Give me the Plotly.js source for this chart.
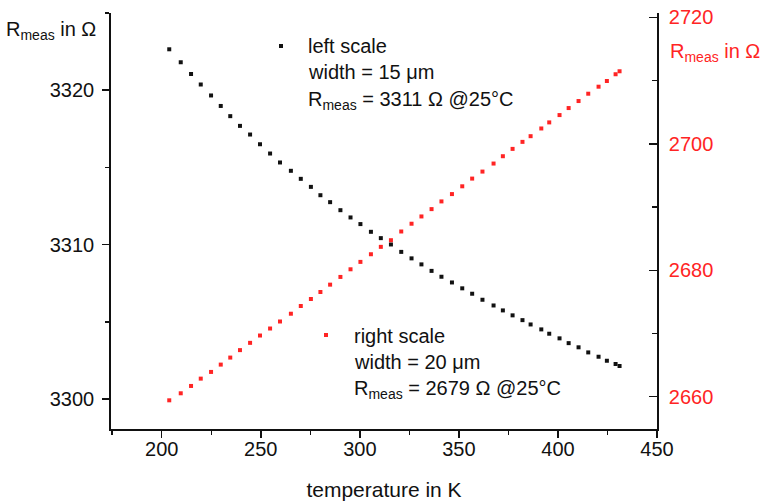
<!DOCTYPE html>
<html>
<head>
<meta charset="utf-8">
<script src="https://cdn.plot.ly/plotly-3.0.1.min.js"></script>
<style>html,body{margin:0;padding:0;background:#fff;}#chart{width:764px;height:501px;}</style>
</head>
<body>
<div id="chart"></div>
<script>
// temperature in K (shared by both series)
const temperature = [203.8,209.6,214.8,219.7,224.9,229.8,234.6,239.5,244.6,249.6,254.7,259.7,265.2,270.2,275.3,280.1,285.0,290.2,295.3,300.3,305.6,310.6,315.7,320.9,326.1,331.1,336.2,341.2,346.5,351.7,356.7,361.9,367.5,372.2,377.1,382.1,386.2,391.6,395.6,400.8,405.4,410.4,415.3,420.5,424.7,429.1,431.1];
// left scale: width = 15 um
const rLeft = [3322.65,3321.81,3321.05,3320.37,3319.66,3318.98,3318.32,3317.69,3317.13,3316.50,3315.90,3315.32,3314.78,3314.26,3313.74,3313.20,3312.75,3312.23,3311.76,3311.33,3310.83,3310.42,3310.01,3309.53,3309.11,3308.72,3308.30,3307.92,3307.55,3307.17,3306.82,3306.43,3306.06,3305.74,3305.42,3305.11,3304.83,3304.51,3304.23,3303.93,3303.62,3303.35,3303.02,3302.74,3302.48,3302.27,3302.14];
// right scale: width = 20 um
const rRight = [2659.43,2660.54,2661.70,2662.86,2663.92,2665.08,2666.19,2667.37,2668.52,2669.68,2670.79,2671.90,2673.13,2674.35,2675.46,2676.57,2677.73,2678.95,2680.16,2681.33,2682.54,2683.71,2684.76,2686.14,2687.37,2688.52,2689.68,2690.90,2692.06,2693.29,2694.51,2695.62,2696.89,2698.05,2699.21,2700.32,2701.22,2702.44,2703.40,2704.56,2705.67,2706.78,2707.94,2709.05,2709.95,2711.02,2711.49];

const leftTicks = [3300, 3310, 3320];
const rightTicks = [2660, 2680, 2700, 2720];
const xTicks = [200, 250, 300, 350, 400, 450];

const leftLegend = ["left scale", "width = 15 μm", "R<sub>meas</sub> = 3311 Ω @25°C"];
const rightLegend = ["right scale", "width = 20 μm", "R<sub>meas</sub> = 2679 Ω @25°C"];
const yTitle = "R<sub>meas</sub> in Ω";
const xTitle = "temperature in K";

const BLACK = '#111111';
const RED = '#ff2424';
const FONT = 'Liberation Sans, Arial, sans-serif';

const traces = [
  {x: temperature, y: rLeft, type: 'scatter', mode: 'markers', yaxis: 'y',
   marker: {symbol: 'square', size: 4, color: BLACK}, name: 'left scale', showlegend: false},
  {x: temperature, y: rRight, type: 'scatter', mode: 'markers', yaxis: 'y2',
   marker: {symbol: 'square', size: 4, color: RED}, name: 'right scale', showlegend: false}
];

// plot area in pixels: x 111..657, y 13..429
const L = 111, R = 657, T = 13, B = 429;
const px = v => (v - L) / (R - L);
const py = v => (B - v) / (B - T);

const ann = [];
function txt(text, x, y, color, xanchor) {
  ann.push({text: text, xref: 'paper', yref: 'paper', x: px(x), y: py(y), xanchor: xanchor || 'left', yanchor: 'middle',
            showarrow: false, font: {family: FONT, size: 20, color: color}, align: 'left'});
}
txt(yTitle, 98, 31, BLACK, 'right');
txt(yTitle, 668, 52, RED, 'left');
leftLegend.forEach((t, i) => txt(t, 306, 46 + i * 26 + (i === 2 ? 2 : 0), BLACK));
rightLegend.forEach((t, i) => txt(t, 352, 336 + i * 25.5 + (i === 2 ? 2 : 0), BLACK));

function sq(x, y, color) {
  return {type: 'rect', xref: 'paper', yref: 'paper', xsizemode: 'pixel', ysizemode: 'pixel',
          xanchor: px(x), yanchor: py(y), x0: -2, x1: 2, y0: -2, y1: 2,
          fillcolor: color, line: {width: 0}};
}

const layout = {
  width: 764, height: 501,
  margin: {l: L, r: 764 - R, t: T, b: 501 - B, pad: 0},
  paper_bgcolor: '#fff', plot_bgcolor: '#fff',
  font: {family: FONT, size: 20, color: BLACK},
  showlegend: false,
  xaxis: {range: [174.4, 450], tickvals: xTicks, ticks: 'outside', ticklen: 7, tickwidth: 1.5, tickcolor: BLACK,
          showline: true, linecolor: BLACK, linewidth: 1.8, showgrid: false, zeroline: false, mirror: false,
          minor: {dtick: 25, tick0: 175, ticks: 'outside', ticklen: 4, tickwidth: 1.5, tickcolor: BLACK, showgrid: false},
          tickfont: {family: FONT, size: 20, color: BLACK}, ticklabelstandoff: -6,
          title: {text: xTitle, font: {family: FONT, size: 21, color: BLACK}, standoff: 24}},
  yaxis: {range: [3298.06, 3325], tickvals: leftTicks, ticks: 'outside', ticklen: 7, tickwidth: 1.5, tickcolor: BLACK,
          showline: true, linecolor: BLACK, linewidth: 1.8, showgrid: false, zeroline: false, mirror: false,
          minor: {dtick: 5, tick0: 3300, ticks: 'outside', ticklen: 4, tickwidth: 1.5, tickcolor: BLACK, showgrid: false},
          tickfont: {family: FONT, size: 20, color: BLACK}, ticklabelstandoff: 4},
  yaxis2: {range: [2654.89, 2720.71], tickvals: rightTicks, overlaying: 'y', side: 'right', anchor: 'x',
           ticks: 'inside', ticklen: 8, tickwidth: 1.5, tickcolor: BLACK,
           showline: true, linecolor: BLACK, linewidth: 1.8, showgrid: false, zeroline: false, mirror: false,
           minor: {dtick: 10, tick0: 2660, ticks: 'inside', ticklen: 5, tickwidth: 1.5, tickcolor: BLACK, showgrid: false},
           tickfont: {family: FONT, size: 20, color: RED}, ticklabelstandoff: 6},
  annotations: ann,
  shapes: [sq(281, 46, BLACK), sq(326, 335, RED)]
};

Plotly.newPlot('chart', traces, layout, {displayModeBar: false, staticPlot: true});
</script>
</body>
</html>
